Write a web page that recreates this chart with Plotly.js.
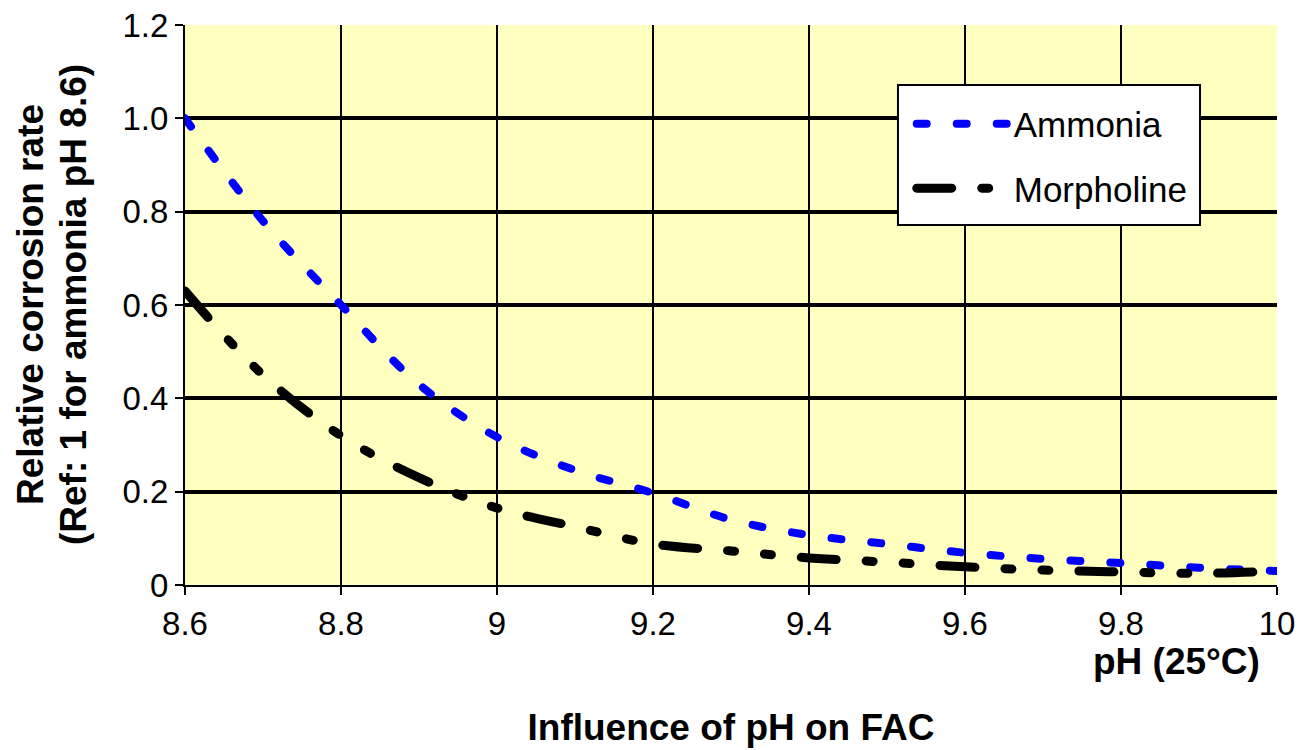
<!DOCTYPE html>
<html>
<head>
<meta charset="utf-8">
<script src="https://cdn.plot.ly/plotly-3.0.1.min.js"></script>
<style>
html,body{margin:0;padding:0;background:#fff;}
#chart{width:1305px;height:750px;}
#chart path.js-line{stroke-linecap:round !important;}
</style>
</head>
<body>
<div id="chart"></div>
<script>
// Data
const pH = [8.6, 8.7, 8.8, 8.9, 9.0, 9.1, 9.2, 9.3, 9.4, 9.5, 9.6, 9.7, 9.8, 9.9, 10.0];
const ammonia = [1.0, 0.78, 0.60, 0.43, 0.317, 0.246, 0.197, 0.14, 0.107, 0.088, 0.069, 0.056, 0.047, 0.037, 0.03];
const morpholine = [0.63, 0.45, 0.32, 0.23, 0.165, 0.125, 0.088, 0.073, 0.058, 0.049, 0.039, 0.032, 0.028, 0.025, 0.03];

const xTickVals = [8.6, 8.8, 9.0, 9.2, 9.4, 9.6, 9.8, 10.0];
const xTickText = ["8.6", "8.8", "9", "9.2", "9.4", "9.6", "9.8", "10"];
const yTickVals = [0, 0.2, 0.4, 0.6, 0.8, 1.0, 1.2];
const yTickText = ["0", "0.2", "0.4", "0.6", "0.8", "1.0", "1.2"];
const yGridVals = [0.2, 0.4, 0.6, 0.8, 1.0];

const FONT = "Liberation Sans, Arial, Helvetica, sans-serif";

const traces = [
  {
    x: pH, y: ammonia, name: "Ammonia", type: "scatter", mode: "lines",
    line: {color: "#0000FF", width: 8, dash: "10px,30px", shape: "spline"},
    legendgroup: "a", yaxis: "y"
  },
  {
    x: pH, y: morpholine, name: "Morpholine", type: "scatter", mode: "lines",
    line: {color: "#000000", width: 9, dash: "35px,30px,7px,30px,7px,30px", shape: "spline"},
    legendgroup: "b", yaxis: "y2"
  }
];

const layout = {
  width: 1305, height: 750,
  margin: {l: 185, r: 28, t: 25, b: 165},
  paper_bgcolor: "#FFFFFF",
  plot_bgcolor: "#FFFFC0",
  font: {family: FONT, color: "#000", size: 33},
  showlegend: true,
  title: {
    text: "<b>Influence of pH on FAC</b>",
    font: {family: FONT, size: 37, color: "#000"},
    xref: "paper", x: 0.5, xanchor: "center",
    yref: "container", y: 0.031, yanchor: "middle"
  },
  xaxis: {
    range: [8.6, 10.0],
    tickmode: "array", tickvals: xTickVals, ticktext: xTickText,
    showgrid: true, gridcolor: "#000", gridwidth: 2,
    showline: true, linecolor: "#000", linewidth: 2,
    ticks: "outside", ticklen: 8, tickwidth: 2, tickcolor: "#000",
    zeroline: false,
    tickfont: {family: FONT, size: 33, color: "#000"}
  },
  yaxis: {
    range: [0, 1.2],
    tickmode: "array", tickvals: yTickVals, ticktext: yTickText,
    showgrid: false,
    showline: true, linecolor: "#000", linewidth: 2,
    ticks: "outside", ticklen: 8, tickwidth: 2, tickcolor: "#000",
    zeroline: false,
    tickfont: {family: FONT, size: 33, color: "#000"}
  },
  yaxis2: {
    overlaying: "y", side: "left",
    range: [0, 1.2],
    tickmode: "array", tickvals: yGridVals,
    showgrid: true, gridcolor: "#000", gridwidth: 4,
    showticklabels: false, ticks: "", showline: false, zeroline: false
  },
  legend: {
    x: 0.6655, xanchor: "left",
    y: 0.876, yanchor: "top",
    bgcolor: "rgba(0,0,0,0)", borderwidth: 0,
    font: {family: FONT, size: 35, color: "#000"},
    itemwidth: 92,
    tracegroupgap: 16
  },
  shapes: [
    {type: "rect", xref: "paper", yref: "paper", layer: "above",
     x0: 0.6529, x1: 0.9295, y0: 0.6429, y1: 0.8929,
     fillcolor: "#FFFFFF", line: {color: "#000", width: 2}}
  ],
  annotations: [
    {text: "<b>pH (25°C)</b>", xref: "paper", yref: "paper", x: 1, y: 0,
     xanchor: "right", yanchor: "middle", xshift: -15, yshift: -76, showarrow: false,
     font: {family: FONT, size: 37, color: "#000"}},
    {text: "<b>Relative corrosion rate</b>", xref: "paper", yref: "paper", x: 0, y: 0.5,
     xanchor: "center", yanchor: "middle", xshift: -155, textangle: -90, showarrow: false,
     font: {family: FONT, size: 37, color: "#000"}},
    {text: "<b>(Ref: 1 for ammonia pH 8.6)</b>", xref: "paper", yref: "paper", x: 0, y: 0.5,
     xanchor: "center", yanchor: "middle", xshift: -112, textangle: -90, showarrow: false,
     font: {family: FONT, size: 37, color: "#000"}}
  ]
};

Plotly.newPlot("chart", traces, layout, {displayModeBar: false, staticPlot: true});
</script>
</body>
</html>
